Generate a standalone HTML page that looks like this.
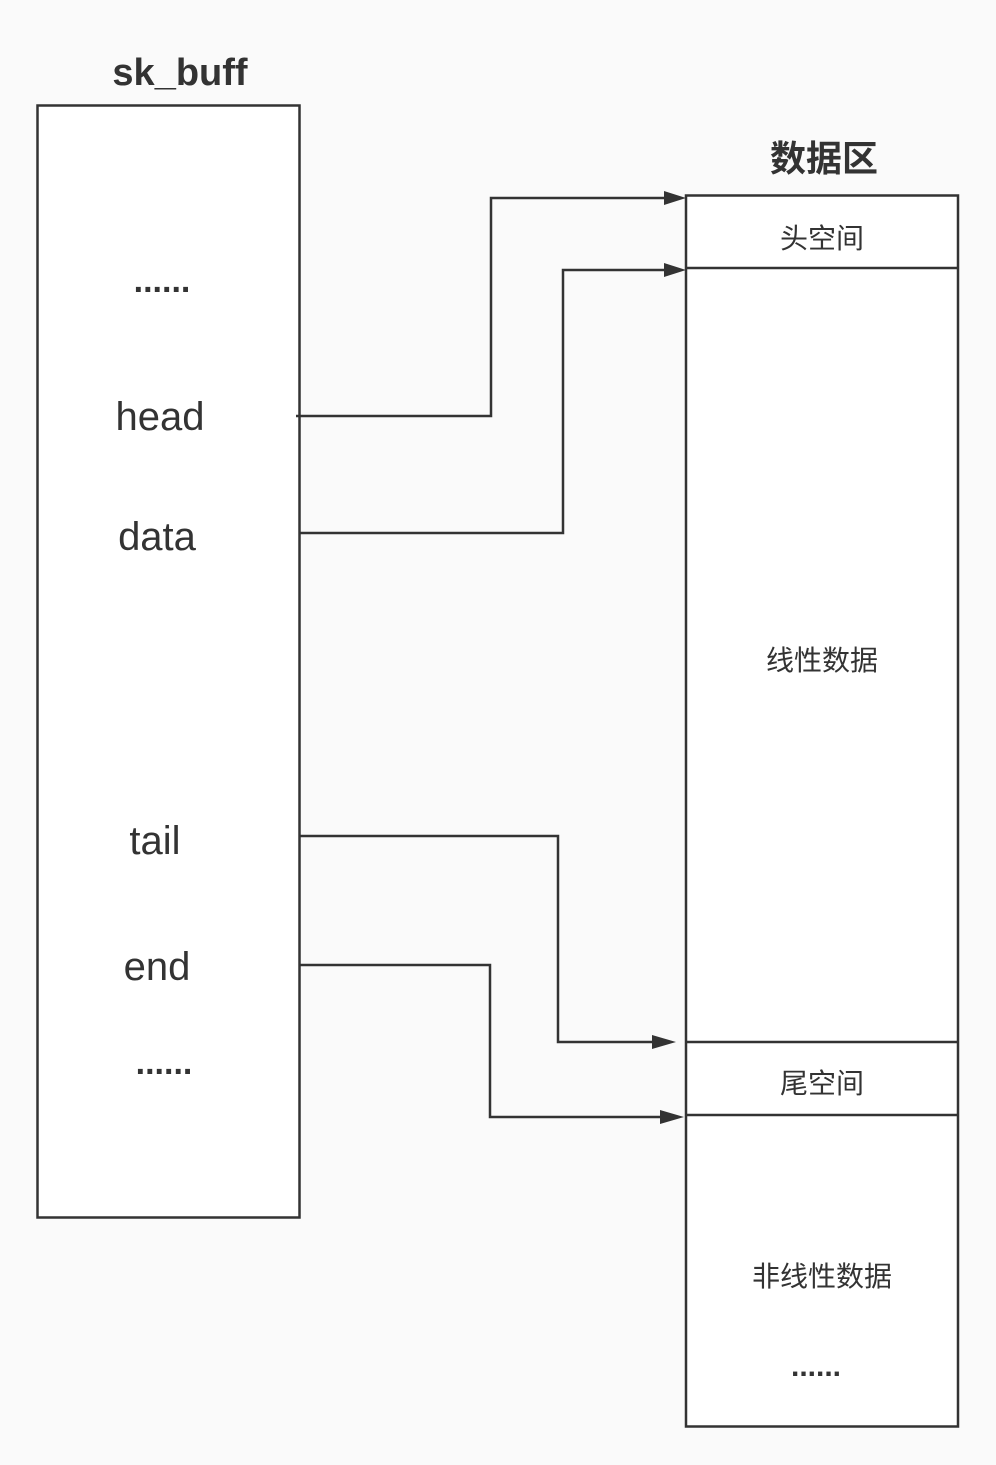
<!DOCTYPE html>
<html><head><meta charset="utf-8"><style>
body{margin:0;background:#fafafa}
svg{display:block}
text{font-family:"Liberation Sans","Noto Sans CJK SC",sans-serif;fill:#333}
</style></head><body>
<svg width="996" height="1465" viewBox="0 0 996 1465" xmlns="http://www.w3.org/2000/svg">
<rect x="0" y="0" width="996" height="1465" fill="#fafafa"/>
<text x="180" y="85" font-size="38" font-weight="bold" text-anchor="middle">sk_buff</text>
<rect x="37.5" y="105.5" width="262" height="1112" fill="#fff" stroke="#333" stroke-width="2.5"/>
<text x="162" y="292" font-size="34" font-weight="bold" text-anchor="middle">......</text>
<text x="160" y="430" font-size="40" text-anchor="middle">head</text>
<text x="157" y="550" font-size="40" text-anchor="middle">data</text>
<text x="155" y="854" font-size="40" text-anchor="middle">tail</text>
<text x="157" y="980" font-size="40" text-anchor="middle">end</text>
<text x="164" y="1074" font-size="34" font-weight="bold" text-anchor="middle">......</text>
<text x="824" y="171" font-size="36" font-weight="bold" text-anchor="middle">数据区</text>
<rect x="686" y="195.5" width="272" height="1231" fill="#fff" stroke="#333" stroke-width="2.5"/>
<line x1="686" y1="268" x2="958" y2="268" stroke="#333" stroke-width="2.5"/>
<line x1="686" y1="1042" x2="958" y2="1042" stroke="#333" stroke-width="2.5"/>
<line x1="686" y1="1115" x2="958" y2="1115" stroke="#333" stroke-width="2.5"/>
<text x="822" y="248" font-size="28" text-anchor="middle">头空间</text>
<text x="822" y="670" font-size="28" text-anchor="middle">线性数据</text>
<text x="822" y="1093" font-size="28" text-anchor="middle">尾空间</text>
<text x="822" y="1286" font-size="28" text-anchor="middle">非线性数据</text>
<text x="816" y="1376" font-size="30" font-weight="bold" text-anchor="middle">......</text>
<g fill="none" stroke="#333" stroke-width="2.5">
<polyline points="296,416 491,416 491,198 666,198"/>
<polyline points="300,533 563,533 563,270 666,270"/>
<polyline points="300,836 558,836 558,1042 656,1042"/>
<polyline points="300,965 490,965 490,1117 666,1117"/>
</g>
<g fill="#333">
<polygon points="664,191 686,198 664,205"/>
<polygon points="664,263 686,270 664,277"/>
<polygon points="652,1035 676,1042 652,1049"/>
<polygon points="660,1110 684,1117 660,1124"/>
</g>
</svg>
</body></html>
